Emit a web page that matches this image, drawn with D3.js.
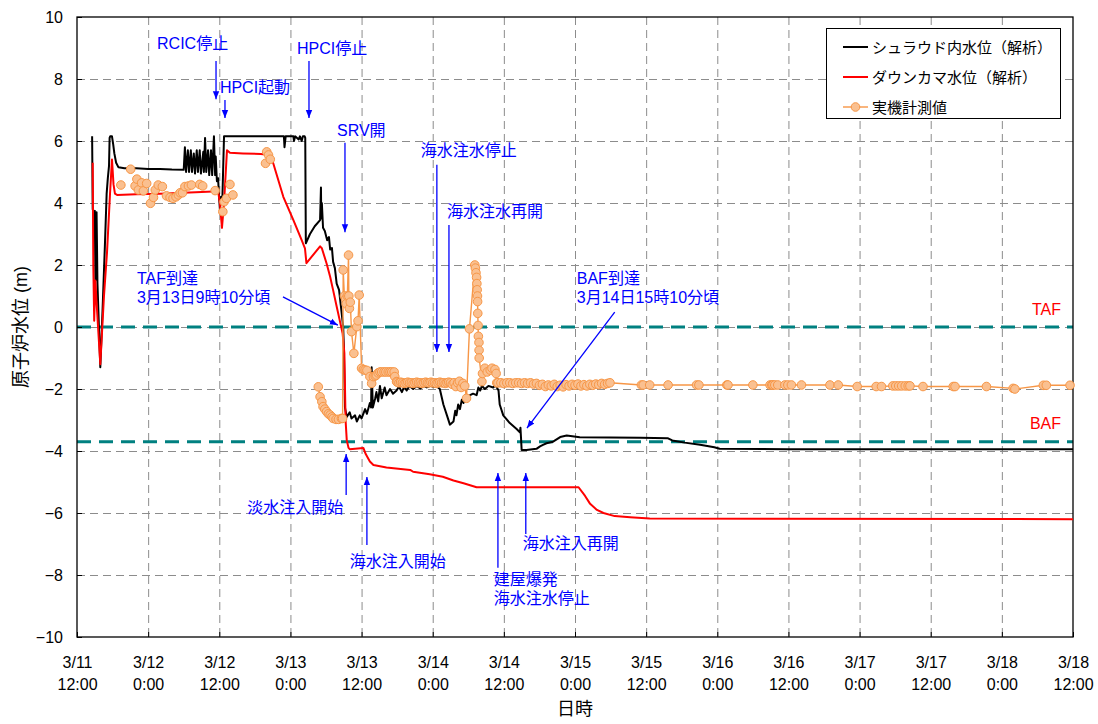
<!DOCTYPE html>
<html><head><meta charset="utf-8">
<script src="https://cdn.jsdelivr.net/npm/d3@7"></script>
<style>body{margin:0;background:#fff}</style>
</head><body>
<svg id="c" width="1098" height="724"></svg>
<script>
// ---- data (time in hours since 3/11 12:00, level in m) ----
const xTickHours = [0,12,24,36,48,60,72,84,96,108,120,132,144,156,168];
const xTickDates = ["3/11","3/12","3/12","3/13","3/13","3/14","3/14","3/15","3/15","3/16","3/16","3/17","3/17","3/18","3/18"];
const xTickTimes = ["12:00","0:00","12:00","0:00","12:00","0:00","12:00","0:00","12:00","0:00","12:00","0:00","12:00","0:00","12:00"];
const yTicks = [-10,-8,-6,-4,-2,0,2,4,6,8,10];
const refLevels = [{name:"TAF", value:0}, {name:"BAF", value:-3.7}];
const seriesNames = ["シュラウド内水位（解析）","ダウンカマ水位（解析）","実機計測値"];

const shroudLevel = [[2.55,6.15],[2.65,3.8],[2.8,3.7],[3.0,3.75],[3.1,1.5],[3.3,3.7],[3.45,1.4],[3.93,-1.3],[4.3,0.5],[4.7,2.6],[5.0,4.3],[5.2,4.8],[5.4,5.2],[5.5,6.1],[5.6,6.15],[5.9,6.15],[6.1,5.9],[6.3,5.6],[6.6,5.3],[7.0,5.15],[8,5.12],[10,5.12],[12,5.1],[14,5.1],[16,5.08],[18.0,5.07],
[18.2,5.8],[18.4,5.0],[18.7,5.7],[18.9,5.0],[19.2,5.7],[19.4,5.0],[19.7,5.6],[19.9,4.95],[20.2,5.7],[20.4,5.0],[20.7,5.7],[20.9,4.95],[21.3,5.65],[21.4,5.0],[21.6,6.1],[21.8,5.0],[22.1,5.7],[22.3,4.9],[22.6,5.7],[22.8,4.9],[23.1,6.15],[23.3,4.9],[23.4,5.5],[23.6,4.7],[23.8,4.8],[23.9,4.4],[24.1,3.8],[24.3,4.2],[24.5,4.0],[24.8,6.15],
[30,6.15],[34.9,6.15],[35.0,5.8],[35.2,6.15],[36.5,6.15],[36.6,6.0],[36.8,6.15],[37.4,6.05],[37.6,6.15],[37.9,6.0],[38.1,6.15],[38.4,6.15],[38.5,6.1],[38.6,2.7],
[39.3,3.0],[40.1,3.25],[41.0,3.45],[41.15,4.5],[41.2,3.5],[41.3,4.0],[41.5,3.2],[41.8,3.1],[42.2,2.8],[42.5,2.9],[42.7,2.5],[43.0,2.55],[43.2,2.1],[43.5,1.9],[43.8,1.4],[44.2,1.2],[44.5,0.7],[44.9,0.0],[45.0,-0.6],[45.2,-2.6],[45.5,-2.9],[46.0,-2.75],[46.3,-2.95],[46.9,-2.85],[47.2,-3.05],[47.7,-2.85],[48.0,-2.95],[48.6,-2.65],[48.9,-2.8],[49.4,-2.45],[49.6,-2.6],[49.7,-1.3],[49.9,-2.6],[50.3,-2.3],[50.5,-2.1],[50.8,-2.4],[51.1,-1.9],[51.4,-2.3],[51.9,-1.95],[52.2,-2.2],[52.8,-2.0],[53.3,-2.15],[53.9,-2.05],[54.3,-1.92],[54.8,-2.1],[55.2,-1.92],[55.6,-2.05],[56.1,-1.9],[56.7,-2.0],[57.3,-1.9],[57.9,-1.98],[58.5,-1.9],[59.0,-1.95],[59.6,-1.9],[60.1,-1.93],[60.7,-1.92],[61.2,-2.0],[61.8,-2.5],[62.4,-2.85],[62.9,-3.15],[63.5,-3.05],[63.8,-2.7],[64.0,-2.85],[64.3,-2.5],[64.6,-2.65],[64.9,-2.35],[65.2,-2.45],[65.5,-2.2],[65.7,-2.3],[66.3,-2.2],[66.8,-2.15],[67.4,-2.2],[67.7,-1.95],[68.0,-2.05],[68.3,-1.9],[68.8,-2.0],[69.4,-1.9],[70.2,-1.95],[70.6,-1.88],[71.1,-2.05],[71.3,-2.5],[71.9,-2.85],[73.0,-3.1],[74.2,-3.3],[74.7,-3.4],[74.8,-3.25],[74.9,-3.6],[75.0,-3.97],[75.8,-3.97],[77.5,-3.93],[78.1,-3.85],[78.6,-3.8],[79.2,-3.75],[80.3,-3.7],[81.5,-3.55],[82.6,-3.5],[84.8,-3.56],[95.0,-3.57],[99.7,-3.59],[100.4,-3.66],[102.5,-3.73],[105.1,-3.8],[107.5,-3.88],[108.4,-3.93],[120,-3.94],[168,-3.94]];

const downcomerLevel = [[2.65,5.3],[2.75,2.0],[2.9,0.2],[3.1,1.5],[3.3,0.8],[3.93,-1.2],[4.55,1.0],[5.06,2.4],[5.57,4.3],[5.9,5.4],[6.16,4.6],[6.4,4.3],[6.75,4.26],[10,4.28],[14,4.3],[18,4.33],[22,4.36],[23.8,4.38],[24.1,4.0],[24.45,3.2],[24.8,4.0],[25.3,5.7],[25.8,5.62],[28,5.6],[31,5.58],[32.6,5.55],[33.1,5.28],[34.8,4.2],[36.5,3.45],[37.9,2.8],[38.45,2.54],[38.7,2.06],[41.0,2.6],[41.3,2.54],[42.1,2.05],[42.7,1.62],[43.2,1.19],[43.8,0.66],[44.3,0.23],[44.8,-0.2],[45.1,-0.85],[45.3,-3.0],[45.5,-3.65],[45.8,-3.9],[46.0,-3.94],[48.3,-3.9],[48.7,-4.1],[49.4,-4.34],[50.0,-4.45],[52.2,-4.53],[56.2,-4.61],[56.7,-4.67],[59.5,-4.75],[61.7,-4.83],[63.5,-4.95],[65.2,-5.04],[67.4,-5.17],[84.6,-5.17],[85.7,-5.45],[86.5,-5.69],[87.7,-5.9],[88.8,-6.0],[90.7,-6.1],[93.3,-6.14],[96.6,-6.18],[168,-6.2]];

// measured points without connecting line
const measuredIsolated = [[7.4,4.58],[9.05,5.09],[9.8,4.55],[10.1,4.77],[10.35,4.42],[10.9,4.65],[11.2,4.39],[11.75,4.63],[12.4,3.99],[12.9,4.18],[13.2,4.42],[13.7,4.58],[14.4,4.53],[15.1,4.23],[15.7,4.18],[16.2,4.15],[16.7,4.2],[17.1,4.26],[17.4,4.33],[17.8,4.33],[18.2,4.53],[18.8,4.55],[19.3,4.58],[20.7,4.6],[21.2,4.55],[23.3,4.4],[24.6,3.72],[24.8,4.04],[25.2,4.15],[25.8,4.6],[26.3,4.26],[31.8,5.28],[32.0,5.65],[32.3,5.55],[32.6,5.41]];

// measured points with connecting line
const measuredConnected = [[40.7,-1.93],[41.0,-2.25],[41.3,-2.41],[41.5,-2.57],[41.8,-2.65],[42.1,-2.73],[42.4,-2.8],[42.7,-2.84],[43.0,-2.9],[43.2,-2.95],[43.7,-2.98],[44.1,-2.98],[44.6,-2.95],[44.8,-2.95],[44.9,1.84],[45.1,1.0],[45.3,0.9],[45.4,0.75],[45.6,1.0],[45.8,2.32],[45.85,1.0],[45.95,0.6],[46.1,0.8],[46.3,-0.15],[46.7,-0.85],[47.2,0.01],[47.4,0.2],[47.6,1.03],[48.0,-1.33],[48.3,-1.38],[48.6,-1.39],[48.9,-1.4],[49.4,-1.6],[49.7,-1.82],[50.0,-1.6],[50.3,-1.58],[50.5,-1.55],[50.8,-1.48],[51.1,-1.45],[51.4,-1.45],[51.8,-1.45],[52.1,-1.45],[52.5,-1.45],[52.8,-1.45],[53.1,-1.45],[53.5,-1.45],[53.6,-1.6],[53.9,-1.76],
[54.0,-1.78],[54.3,-1.8],[54.6,-1.78],[54.9,-1.8],[55.2,-1.82],[55.5,-1.8],[55.8,-1.78],[56.1,-1.8],[56.4,-1.8],[56.7,-1.82],[57.0,-1.8],[57.3,-1.78],[57.6,-1.8],[57.9,-1.8],[58.2,-1.82],[58.5,-1.8],[58.8,-1.78],[59.1,-1.8],[59.4,-1.8],[59.7,-1.78],[60.0,-1.8],[60.3,-1.8],[60.6,-1.82],[60.9,-1.8],[61.2,-1.78],[61.5,-1.8],[61.8,-1.8],[62.1,-1.82],[62.4,-1.8],[62.7,-1.78],[63.0,-1.8],[63.3,-1.85],[63.6,-1.8],[63.9,-1.92],[64.2,-1.8],[64.5,-1.75],[64.8,-1.95],[65.1,-1.82],[65.4,-1.9],
[65.7,-2.3],[66.2,-0.06],[67.1,2.0],[67.2,1.9],[67.3,1.75],[67.4,1.6],[67.45,1.4],[67.5,1.2],[67.55,1.0],[67.57,0.82],[67.6,0.44],[67.65,0.05],[67.7,-0.3],[67.8,-0.5],[67.82,-0.75],[67.84,-1.0],[68.3,-1.76],[68.4,-1.5],[68.8,-1.33],[69.2,-1.45],[69.7,-1.39],[70.0,-1.33],[70.5,-1.37],[70.7,-1.5],[70.8,-1.8],
[71.0,-1.8],[71.5,-1.8],[72.0,-1.82],[72.5,-1.8],[73.0,-1.8],[73.5,-1.82],[74.0,-1.8],[74.5,-1.8],[75.0,-1.82],[75.5,-1.8],[76.0,-1.82],[76.5,-1.8],[77.0,-1.84],[77.5,-1.82],[78.0,-1.88],[78.5,-1.85],[79.0,-1.92],[79.5,-1.87],[80.0,-1.9],[80.5,-1.85],[81.0,-1.92],[81.5,-1.88],[82.0,-1.93],[82.5,-1.86],[83.0,-1.9],[83.5,-1.85],[84.0,-1.88],[84.5,-1.84],[85.0,-1.9],[85.5,-1.86],[86.0,-1.9],[86.5,-1.85],[87.0,-1.88],[87.5,-1.84],[88.0,-1.86],[88.5,-1.82],[89.0,-1.85],[89.5,-1.82],[89.9,-1.8],
[95.2,-1.87],[95.5,-1.87],[96.6,-1.87],[99.7,-1.87],[104.5,-1.87],[104.9,-1.87],[109.6,-1.87],[109.8,-1.87],[114.0,-1.87],[116.9,-1.87],[117.2,-1.87],[117.4,-1.87],[117.7,-1.87],[118.2,-1.87],[119.4,-1.87],[119.9,-1.87],[120.5,-1.87],[122.2,-1.87],[127.0,-1.87],[128.4,-1.87],[131.6,-1.92],[134.8,-1.92],[135.7,-1.92],[137.6,-1.9],[138.1,-1.9],[138.6,-1.9],[139.1,-1.9],[139.7,-1.9],[140.2,-1.9],[140.5,-1.9],[142.7,-1.92],[147.8,-1.92],[148.1,-1.92],[153.4,-1.92],[157.9,-1.98],[158.2,-2.0],[163.0,-1.88],[163.5,-1.88],[167.5,-1.88]];

const annotations = [
 {lines:["RCIC停止"], t:13.5, v:9.13, arrow:[23.45,8.58,23.45,7.35]},
 {lines:["HPCI起動"], t:24.1, v:7.74, arrow:[24.96,7.32,24.96,6.74]},
 {lines:["HPCI停止"], t:37.1, v:9.0, arrow:[39.13,8.58,39.13,6.74]},
 {lines:["SRV開"], t:43.85, v:6.35, arrow:[45.2,5.94,45.2,3.06]},
 {lines:["海水注水停止"], t:58.0, v:5.68, arrow:[60.7,5.23,60.7,-0.81]},
 {lines:["海水注水再開"], t:62.4, v:3.71, arrow:[62.74,3.29,62.74,-0.81]},
 {lines:["BAF到達","3月14日15時10分頃"], t:84.3, v:1.58, arrow:[90.7,0.48,75.9,-3.26]},
 {lines:["TAF到達","3月13日9時10分頃"], t:10.1, v:1.58, arrow:[34.74,0.97,44.0,0.06]},
 {lines:["淡水注入開始"], t:28.7, v:-5.81, arrow:[45.4,-5.42,45.4,-4.1]},
 {lines:["海水注入開始"], t:46.0, v:-7.58, arrow:[48.9,-7.03,48.9,-4.84]},
 {lines:["建屋爆発","海水注水停止"], t:70.3, v:-8.13, arrow:[71.0,-7.77,71.0,-4.71]},
 {lines:["海水注入再開"], t:75.2, v:-6.97, arrow:[75.7,-6.68,75.7,-4.71]}
];

// ---- drawing ----
const FONT = "'Liberation Sans', Arial, 'Noto Sans CJK JP', sans-serif";
const L = 77, R = 1073, T = 17, B = 637;
const svg = d3.select("#c").style("font-family", FONT);
svg.append("rect").attr("width",1098).attr("height",724).attr("fill","#fff");

const x = d3.scaleLinear().domain([0,168]).range([L,R]);
const y = d3.scaleLinear().domain([-10,10]).range([B,T]);

svg.append("defs").append("marker").attr("id","arr")
  .attr("viewBox","0 0 10 10").attr("refX",10).attr("refY",5)
  .attr("markerUnits","userSpaceOnUse").attr("markerWidth",8).attr("markerHeight",8)
  .attr("orient","auto")
  .append("path").attr("d","M0,1 L10,5 L0,9 z").attr("fill","#0000ff");

// grid
const grid = svg.append("g").attr("stroke","#8c8c8c").attr("stroke-width",1).attr("stroke-dasharray","8,5");
grid.selectAll("line.v").data(xTickHours.slice(1,-1)).join("line")
  .attr("x1",d=>x(d)+0.5).attr("x2",d=>x(d)+0.5).attr("y1",T).attr("y2",B);
grid.selectAll("line.h").data(yTicks.slice(1,-1)).join("line")
  .attr("x1",L).attr("x2",R).attr("y1",d=>y(d)+0.5).attr("y2",d=>y(d)+0.5);

// reference levels
svg.append("g").selectAll("line").data(refLevels).join("line")
  .attr("x1",L).attr("x2",R).attr("y1",d=>y(d.value)).attr("y2",d=>y(d.value))
  .attr("stroke","#008080").attr("stroke-width",3).attr("stroke-dasharray","14,8");
svg.append("g").selectAll("text").data(refLevels).join("text")
  .attr("x",R-12).attr("y",d=>y(d.value)-18).attr("text-anchor","end")
  .attr("dominant-baseline","central").attr("fill","#ff0000").attr("font-size",16)
  .text(d=>d.name);

// axes
const xAxis = svg.append("g").attr("transform",`translate(0,${B})`)
  .call(d3.axisBottom(x).tickValues(xTickHours).tickSizeInner(-5).tickSizeOuter(0).tickFormat(""));
xAxis.select(".domain").remove();
xAxis.selectAll(".tick line").attr("stroke","#000");
xAxis.selectAll(".tick").each(function(d,i){
  const t = d3.select(this).append("text").attr("fill","#000").attr("font-size",16)
    .attr("text-anchor","middle").attr("font-family",FONT);
  t.append("tspan").attr("x",0).attr("y",31).text(xTickDates[i]);
  t.append("tspan").attr("x",0).attr("y",53).text(xTickTimes[i]);
});
const yAxis = svg.append("g").attr("transform",`translate(${L},0)`)
  .call(d3.axisLeft(y).tickValues(yTicks).tickSizeInner(-5).tickSizeOuter(0).tickPadding(14));
yAxis.select(".domain").remove();
yAxis.selectAll(".tick text").attr("font-size",16).attr("font-family",FONT).attr("fill","#000");
yAxis.selectAll(".tick line").attr("stroke","#000");

// frame
svg.append("rect").attr("x",L).attr("y",T).attr("width",R-L).attr("height",B-T)
  .attr("fill","none").attr("stroke","#000").attr("stroke-width",1.3);

// series
const line = d3.line().x(d=>x(d[0])).y(d=>y(d[1]));
svg.append("path").datum(shroudLevel).attr("d",line).attr("fill","none")
  .attr("stroke","#000").attr("stroke-width",2).attr("stroke-linejoin","round");
svg.append("path").datum(downcomerLevel).attr("d",line).attr("fill","none")
  .attr("stroke","#ff0000").attr("stroke-width",2).attr("stroke-linejoin","round");
svg.append("path").datum(measuredConnected).attr("d",line).attr("fill","none")
  .attr("stroke","#f79646").attr("stroke-width",1.4);
svg.append("g").selectAll("circle").data(measuredIsolated.concat(measuredConnected)).join("circle")
  .attr("cx",d=>x(d[0])).attr("cy",d=>y(d[1])).attr("r",4.3)
  .attr("fill","#fac090").attr("stroke","#f79646").attr("stroke-width",1);

// annotations
const ann = svg.append("g").attr("fill","#0000ff").attr("font-size",16);
annotations.forEach(a=>{
  a.lines.forEach((s,i)=>{
    ann.append("text").attr("x",x(a.t)).attr("y",y(a.v)+i*19)
      .attr("dominant-baseline","central").text(s);
  });
  ann.append("line").attr("x1",x(a.arrow[0])).attr("y1",y(a.arrow[1]))
    .attr("x2",x(a.arrow[2])).attr("y2",y(a.arrow[3]))
    .attr("stroke","#0000ff").attr("stroke-width",1.3).attr("marker-end","url(#arr)");
});

// legend
const lg = svg.append("g");
lg.append("rect").attr("x",826.5).attr("y",28.5).attr("width",234).attr("height",90)
  .attr("fill","#fff").attr("stroke","#000").attr("stroke-width",1);
const legendColors = ["#000","#ff0000","#f79646"];
seriesNames.forEach((n,i)=>{
  const yy = 47 + i*30;
  lg.append("line").attr("x1",843).attr("x2",868).attr("y1",yy).attr("y2",yy)
    .attr("stroke",legendColors[i]).attr("stroke-width",i<2?2:1.4);
  if(i===2) lg.append("circle").attr("cx",855.5).attr("cy",yy).attr("r",4.3)
    .attr("fill","#fac090").attr("stroke","#f79646");
  lg.append("text").attr("x",872).attr("y",yy).attr("dominant-baseline","central")
    .attr("font-size",15).attr("fill","#000").text(n);
});

// axis titles
svg.append("text").attr("x",(L+R)/2).attr("y",709).attr("text-anchor","middle")
  .attr("dominant-baseline","central").attr("font-size",18).text("日時");
svg.append("text").attr("transform",`translate(21,${(T+B)/2}) rotate(-90)`)
  .attr("text-anchor","middle").attr("dominant-baseline","central")
  .attr("font-size",18).text("原子炉水位 (m)");
</script>
</body></html>
